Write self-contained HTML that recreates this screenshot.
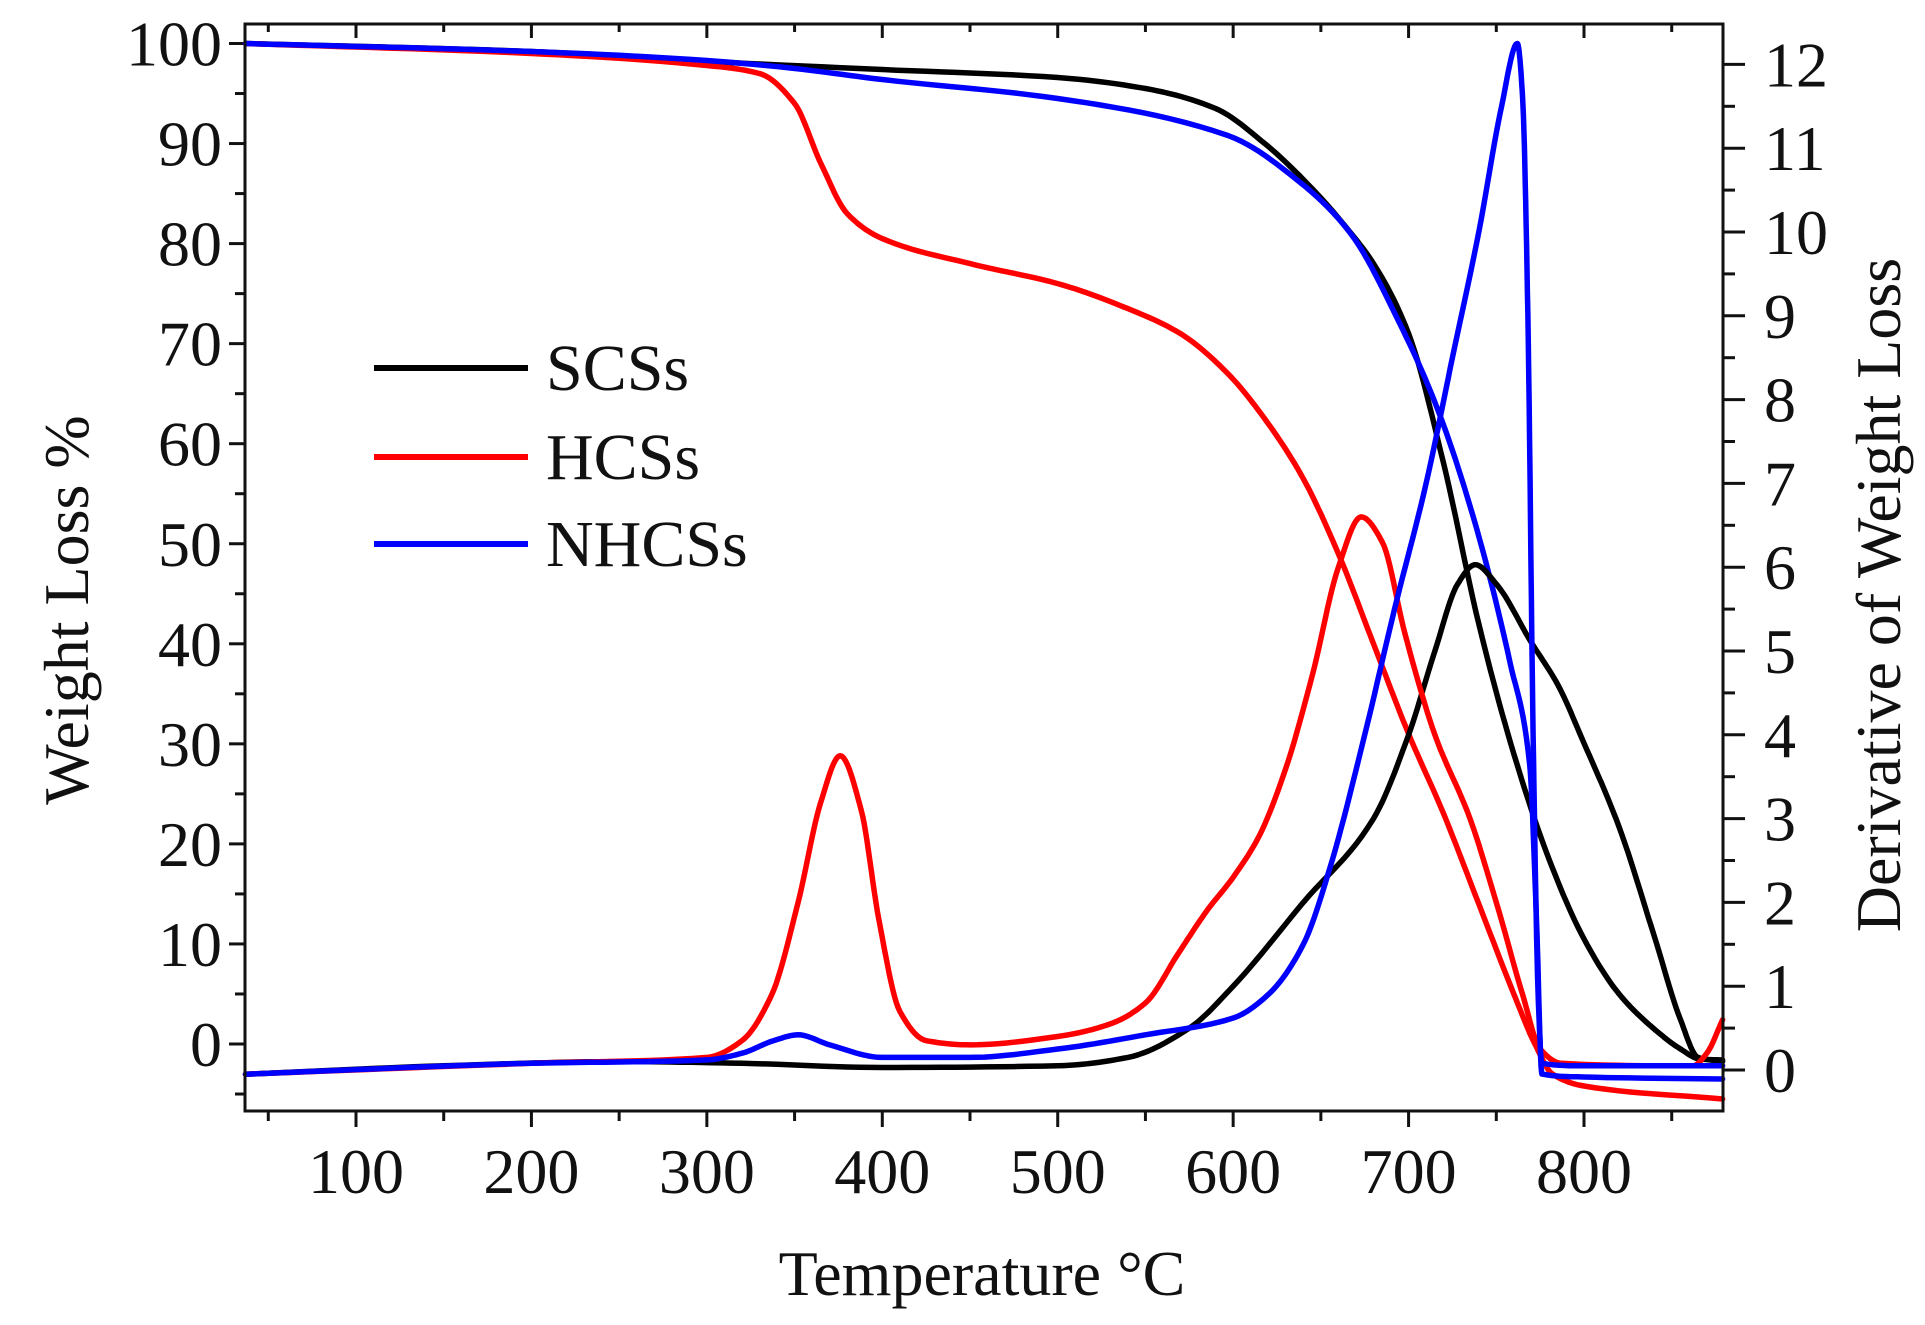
<!DOCTYPE html>
<html><head><meta charset="utf-8"><style>
html,body{margin:0;padding:0;background:#fff;}
svg{display:block;}
text{font-family:"Liberation Serif",serif;fill:#111;}
</style></head><body>
<svg id="s" width="1925" height="1325" xmlns="http://www.w3.org/2000/svg">
<g id="ax"></g>
<g id="cv" fill="none" stroke-width="5.5" stroke-linejoin="round" stroke-linecap="round"></g>
<rect x="245" y="24" width="1478" height="1087" fill="none" stroke="#111" stroke-width="3"/>
<text x="0" y="0" font-size="64" text-anchor="middle" transform="translate(88,610) rotate(-90)">Weight Loss %</text>
<text x="982" y="1295" font-size="64" text-anchor="middle">Temperature °C</text>
<text x="0" y="0" font-size="64" text-anchor="middle" transform="translate(1900,595) rotate(-90)">Derivative of Weight Loss</text>
<g stroke-width="6">
<line x1="374" y1="368" x2="528" y2="368" stroke="#000"/>
<line x1="374" y1="457" x2="528" y2="457" stroke="#f00"/>
<line x1="374" y1="544" x2="528" y2="544" stroke="#00f"/>
</g>
<text x="546" y="390" font-size="66">SCSs</text>
<text x="546" y="479" font-size="66">HCSs</text>
<text x="546" y="566" font-size="66">NHCSs</text>
</svg>
<script>
const L=245,R=1723,T=24,B=1111;
const X=t=>356+(t-100)*1.7543;
const Y=v=>1044-10.005*v;
const Y2=v=>1070-83.8*v;
let ax='';
for(let t=50;t<=850;t+=50){const x=X(t),maj=t%100==0;
 ax+=`<line x1="${x}" y1="${B}" x2="${x}" y2="${B+(maj?16:10)}" stroke="#111" stroke-width="3"/>`;
 ax+=`<line x1="${x}" y1="${T}" x2="${x}" y2="${T+(maj?14:8)}" stroke="#111" stroke-width="3"/>`;
 if(maj) ax+=`<text x="${x}" y="${B+82}" font-size="64" text-anchor="middle">${t}</text>`;}
for(let v=-5;v<=100;v+=5){const y=Y(v),maj=v%10==0;
 ax+=`<line x1="${L}" y1="${y}" x2="${L-(maj?16:10)}" y2="${y}" stroke="#111" stroke-width="3"/>`;
 if(maj) ax+=`<text x="222" y="${y+22}" font-size="64" text-anchor="end">${v}</text>`;}
for(let v=0;v<=12;v+=0.5){const y=Y2(v),maj=v%1==0;
 ax+=`<line x1="${R}" y1="${y}" x2="${R+(maj?22:12)}" y2="${y}" stroke="#111" stroke-width="3"/>`;
 if(maj) ax+=`<text x="1764" y="${y+22}" font-size="64">${v}</text>`;}
document.getElementById('ax').innerHTML=ax;
function path(pts,yf){
 const n=pts.length,xs=pts.map(a=>a[0]),ys=pts.map(a=>a[1]);
 const d=[],m=[];
 for(let i=0;i<n-1;i++)d.push((ys[i+1]-ys[i])/(xs[i+1]-xs[i]));
 m[0]=d[0];m[n-1]=d[n-2];
 for(let i=1;i<n-1;i++){ if(d[i-1]*d[i]<=0)m[i]=0; else {const w1=2*(xs[i+1]-xs[i])+(xs[i]-xs[i-1]),w2=(xs[i+1]-xs[i])+2*(xs[i]-xs[i-1]);m[i]=(w1+w2)/(w1/d[i-1]+w2/d[i]);}}
 let s=`M${X(xs[0]).toFixed(1)},${yf(ys[0]).toFixed(1)}`;
 for(let i=0;i<n-1;i++){const h=xs[i+1]-xs[i];
  for(let k=1;k<=12;k++){const t=k/12,t2=t*t,t3=t2*t;
   const v=(2*t3-3*t2+1)*ys[i]+(t3-2*t2+t)*h*m[i]+(-2*t3+3*t2)*ys[i+1]+(t3-t2)*h*m[i+1];
   s+=` L${X(xs[i]+h*t).toFixed(1)},${yf(v).toFixed(1)}`;}}
 return s;}
const S=[
 [[[37,100],[200,99.2],[300,98.2],[400,97.4],[500,96.6],[550,95.5],[590,93.5],[618,90],[645,85.5],[665,81.5],[680,78],[700,71],[720,58],[740,42],[760,29],[780,18.5],[800,10.5],[820,5],[840,1.5],[855,-0.5],[866,-1.5],[879,-1.6]],Y,'#000'],
 [[[37,100],[200,99],[300,97.8],[330,97],[350,94],[365,88],[380,83],[400,80.5],[450,78],[500,76],[540,73.5],[570,71],[597,67],[620,62],[640,56.5],[660,49],[680,40],[700,31],[720,23],[740,14],[760,5],[772,0],[782,-3],[800,-4.2],[879,-5.5]],Y,'#f00'],
 [[[37,100],[200,99.2],[300,98.3],[345,97.6],[400,96.4],[500,94.5],[597,90.8],[639,86],[667,81],[695,72],[716,63.7],[737,52.6],[758,38],[769,28],[773,12],[776,-3],[800,-3.3],[879,-3.5]],Y,'#00f'],
 [[[37,-0.05],[150,0.05],[250,0.1],[320,0.08],[400,0.03],[500,0.05],[540,0.15],[575,0.5],[600,1],[640,2],[680,3],[700,4],[715,5],[728,5.8],[738,6.03],[750,5.8],[770,5.1],[785,4.6],[800,3.9],[820,2.9],[840,1.6],[855,0.6],[865,0.15],[879,0.1]],Y2,'#000'],
 [[[37,-0.05],[200,0.08],[300,0.15],[320,0.35],[337,0.9],[352,2],[365,3.2],[376,3.75],[388,3.1],[398,1.8],[410,0.7],[425,0.35],[450,0.3],[500,0.4],[530,0.55],[550,0.8],[569,1.4],[585,1.9],[600,2.3],[615,2.8],[630,3.6],[645,4.7],[660,6],[673,6.6],[685,6.3],[698,5.2],[715,4],[735,3],[750,2],[765,0.9],[775,0.25],[787,0.08],[850,0.05],[862,0.05],[870,0.2],[879,0.6]],Y2,'#f00'],
 [[[37,-0.05],[200,0.08],[300,0.12],[320,0.2],[338,0.35],[352,0.42],[370,0.3],[400,0.15],[450,0.15],[500,0.25],[550,0.42],[600,0.62],[620,0.9],[640,1.5],[655,2.4],[675,4],[692,5.5],[710,7],[725,8.5],[740,10],[753,11.5],[762,12.25],[765,11.6],[768,9],[771,4],[774,0.8],[776,0.08],[800,0.05],[879,0.05]],Y2,'#00f']
];
let h='';for(const [pts,yf,c] of S) h+=`<path d="${path(pts,yf)}" stroke="${c}"/>`;
document.getElementById('cv').innerHTML=h;
</script>
</body></html>
